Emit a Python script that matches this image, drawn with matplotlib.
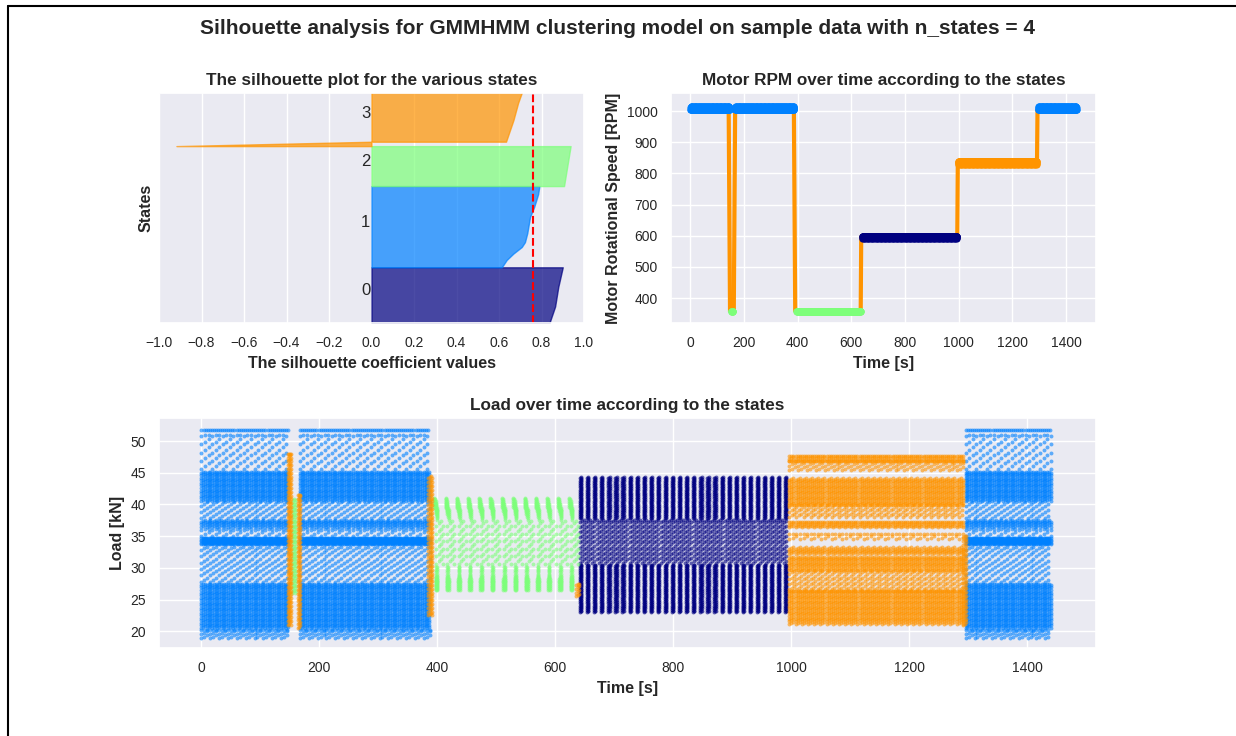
import numpy as np
import matplotlib
matplotlib.use("Agg")
import matplotlib.pyplot as plt
import seaborn as sns
from matplotlib import cm
from matplotlib.lines import Line2D

sns.set_theme(style="darkgrid")
plt.rcParams["font.family"] = ["Liberation Sans", "DejaVu Sans"]

N_STATES = 4
STATE_COLORS = [cm.jet(float(i) / N_STATES) for i in range(N_STATES)]

# ---------------- silhouette data ----------------
sil_sizes = [353, 512, 252, 350]
sil_frac = [
    [0.0, 0.3, 0.65, 1.0],
    [0.0, 0.09, 0.17, 0.25, 0.31, 0.42, 0.62, 0.74, 0.90, 1.0],
    [0.0, 1.0],
    [0.0, 0.079, 0.08, 0.47, 0.78, 0.96, 1.0],
]
sil_vals = [
    [0.837, 0.864, 0.879, 0.900],
    [0.613, 0.636, 0.668, 0.707, 0.722, 0.733, 0.746, 0.765, 0.784, 0.790],
    [0.906, 0.937],
    [-0.918, 0.0, 0.633, 0.668, 0.690, 0.707, 0.710],
]
sil_avg = 0.759
sil_xticks = [-1.0, -0.8, -0.6, -0.4, -0.2, 0.0, 0.2, 0.4, 0.6, 0.8, 1.0]

# ---------------- RPM data ----------------
# plateaus: state, t_start, t_end, rpm_low, rpm_high
rpm_state = [1, 2, 1, 2, 0, 3, 1]
rpm_t0 = [0, 152, 167, 395, 640, 998, 1296]
rpm_t1 = [147, 160, 387, 636, 995, 1292, 1440]
rpm_lo = [1002, 354, 1002, 354, 591, 828, 1002]
rpm_hi = [1016, 360, 1016, 360, 600, 840, 1016]
# transitions (state 3): t_a, rpm_a, t_b, rpm_b
ramp_ta = [143, 162, 386, 635, 995, 1292]
ramp_ra = [1000, 355, 1000, 355, 600, 830]
ramp_tb = [148, 167, 391, 637, 997, 1294]
ramp_rb = [355, 1000, 355, 600, 840, 1005]

# ---------------- Load data ----------------
blue_spans = [(0, 147), (167, 387), (1296, 1440)]
blue_levels = [  # lo, hi, dy, dt
    (18.9, 20.2, 0.65, 5.0),
    (20.5, 27.5, 0.4, 3.0),
    (27.8, 33.3, 1.0, 5.0),
    (33.7, 34.7, 0.25, 2.0),
    (35.0, 36.2, 1.0, 6.0),
    (36.5, 37.5, 0.4, 3.0),
    (37.8, 40.4, 1.0, 5.0),
    (40.6, 45.1, 0.4, 3.0),
    (45.6, 51.0, 1.3, 6.0),
    (51.8, 51.8, 0.3, 3.5),
]
green_starts = [395, 414, 433, 452, 471, 490, 510, 529, 548, 567, 586, 605, 624]
green_hook_dt = [0, 1, 2, 3, 4, 5]
green_hook_top = [41.2, 41.0, 40.6, 40.1, 39.6, 39.2]
navy_cols = list(range(642, 995, 12))
orange_levels = [
    (21.2, 26.4, 0.4, 3.5),
    (26.6, 29.5, 0.8, 4.0),
    (29.6, 31.7, 0.4, 3.5),
    (32.2, 33.3, 0.4, 3.5),
    (34.5, 35.3, 0.8, 6.0),
    (36.4, 37.2, 0.4, 3.5),
    (38.0, 39.9, 0.8, 4.0),
    (39.9, 44.2, 0.4, 3.5),
    (45.4, 46.8, 0.7, 5.0),
    (46.8, 47.6, 0.4, 3.5),
]
orange_trans = [  # t0, t1, lo, hi
    (146, 152, 21.0, 48.0),
    (163, 168, 20.5, 41.5),
    (385, 392, 22.5, 44.5),
    (636, 640, 25.5, 27.5),
    (1292, 1296, 21.0, 35.0),
]
green_trans = (153, 161, 26.0, 41.0)


def band_points(t0, t1, dt, lo, hi, dy, stagger=3):
    ts = np.arange(t0, t1 + 1e-9, dt)
    ys = np.arange(lo, hi + 1e-9, dy)
    xs, yv = [], []
    for k, t in enumerate(ts):
        off = (k % stagger) * dy / stagger
        xs.append(np.full(ys.size, t))
        yv.append(np.clip(ys + off, lo, hi))
    return np.concatenate(xs), np.concatenate(yv)


TICK_FS = 10
LABEL_FS = 11.5
TITLE_FS = 12.3

fig = plt.figure(figsize=(12.36, 7.36), dpi=100)

# ======== silhouette axes ========
ax1 = fig.add_axes([159 / 1236, 1 - 323.3 / 736, 425 / 1236, 230 / 736])
y_lower = 0
for i in range(N_STATES):
    size = sil_sizes[i]
    ys = y_lower + np.array(sil_frac[i]) * size
    ax1.fill_betweenx(ys, 0, sil_vals[i], facecolor=STATE_COLORS[i],
                      edgecolor=STATE_COLORS[i], alpha=0.7)
    ax1.text(-0.05, y_lower + 0.5 * size, str(i), fontsize=12, color="0.15")
    y_lower += size
ax1.axvline(x=sil_avg, color="red", linestyle="--", lw=1.5)
ax1.set_xlim(-1, 1)
ax1.set_ylim(0, 1450)
ax1.set_yticks([])
ax1.set_xticks(sil_xticks)
ax1.set_title("The silhouette plot for the various states", fontsize=TITLE_FS, fontweight="bold")
ax1.set_xlabel("The silhouette coefficient values", fontsize=LABEL_FS, fontweight="bold")
ax1.set_ylabel("States", fontsize=LABEL_FS, fontweight="bold")

# ======== RPM axes ========
ax2 = fig.add_axes([671 / 1236, 1 - 323.3 / 736, 425 / 1236, 230 / 736])
for i in range(len(ramp_ta)):
    ax2.plot([ramp_ta[i], ramp_tb[i]], [ramp_ra[i], ramp_rb[i]],
             color=STATE_COLORS[3], lw=3, solid_capstyle="butt", zorder=2)
for i in range(len(rpm_state)):
    x, y = band_points(rpm_t0[i], rpm_t1[i], 1.0, rpm_lo[i], rpm_hi[i], 3.0)
    ax2.scatter(x, y, s=18, color=STATE_COLORS[rpm_state[i]], linewidths=0, zorder=3)
ax2.set_xlim(-72, 1512)
ax2.set_ylim(319, 1057)
ax2.set_xticks([0, 200, 400, 600, 800, 1000, 1200, 1400])
ax2.set_yticks([400, 500, 600, 700, 800, 900, 1000])
ax2.set_title("Motor RPM over time according to the states", fontsize=TITLE_FS, fontweight="bold")
ax2.set_xlabel("Time [s]", fontsize=LABEL_FS, fontweight="bold")
ax2.set_ylabel("Motor Rotational Speed [RPM]", fontsize=LABEL_FS, fontweight="bold")

# ======== Load axes ========
ax3 = fig.add_axes([159 / 1236, 1 - 648.3 / 736, 937 / 1236, 230 / 736])
pts = {s: ([], []) for s in range(N_STATES)}


def add(state, x, y):
    pts[state][0].append(x)
    pts[state][1].append(y)


for (a, b) in blue_spans:
    for (lo, hi, dy, dt) in blue_levels:
        add(1, *band_points(a, b, dt, lo, hi, dy))
for t0 in green_starts:
    for dt_, top in zip(green_hook_dt, green_hook_top):
        add(2, *band_points(t0 + dt_, t0 + dt_, 1.0, top - 1.6, top, 0.3))
    add(2, *band_points(t0 + 2, t0 + 5, 1.0, 26.5, 28.5, 0.3))
    add(2, *band_points(t0 + 3, t0 + 4, 1.0, 28.5, 30.2, 0.4))
    add(2, *band_points(t0 + 3, t0 + 15, 4.0, 30.6, 37.6, 1.2))
add(2, *band_points(green_trans[0], green_trans[1], 2.0, green_trans[2], green_trans[3], 0.8))
for t in navy_cols:
    add(0, *band_points(t, t + 2.0, 1.0, 23.0, 30.5, 0.35))
    add(0, *band_points(t, t + 2.0, 1.0, 37.8, 44.3, 0.35))
add(0, *band_points(642, 992, 3.5, 30.8, 37.6, 0.8))
for (lo, hi, dy, dt) in orange_levels:
    add(3, *band_points(997, 1292, dt, lo, hi, dy))
for (a, b, lo, hi) in orange_trans:
    add(3, *band_points(a, b, 2.0, lo, hi, 0.6))

for s in range(N_STATES):
    x = np.concatenate(pts[s][0])
    y = np.concatenate(pts[s][1])
    ax3.scatter(x, y, s=8, color=STATE_COLORS[s], alpha=0.6, linewidths=0)
ax3.set_xlim(-72, 1517)
ax3.set_ylim(17.3, 53.6)
ax3.set_xticks([0, 200, 400, 600, 800, 1000, 1200, 1400])
ax3.set_yticks([20, 25, 30, 35, 40, 45, 50])
ax3.set_title("Load over time according to the states", fontsize=TITLE_FS, fontweight="bold")
ax3.set_xlabel("Time [s]", fontsize=LABEL_FS, fontweight="bold")
ax3.set_ylabel("Load [kN]", fontsize=LABEL_FS, fontweight="bold")

for ax in (ax1, ax2, ax3):
    ax.tick_params(labelsize=TICK_FS)

fig.text(0.5, 1 - 28 / 736,
         "Silhouette analysis for GMMHMM clustering model on sample data with n_states = 4",
         ha="center", va="center", fontsize=15, fontweight="bold", color="0.15")

fig.add_artist(Line2D([7.5 / 1236, 1.0], [1 - 5.5 / 736, 1 - 5.5 / 736],
                      transform=fig.transFigure, color="black", lw=1.5))
fig.add_artist(Line2D([7.5 / 1236, 7.5 / 1236], [0.0, 1 - 5.5 / 736],
                      transform=fig.transFigure, color="black", lw=1.5))

fig.savefig("out.png", dpi=100, facecolor="white")
